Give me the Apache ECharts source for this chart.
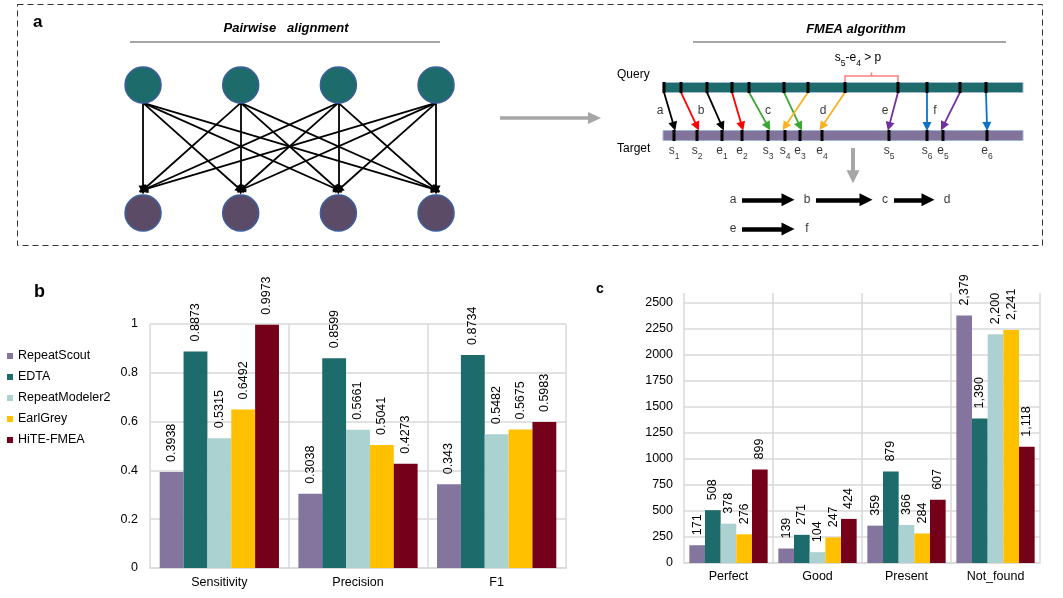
<!DOCTYPE html>
<html><head><meta charset="utf-8">
<script src="https://cdn.jsdelivr.net/npm/echarts@6/dist/echarts.min.js"></script>
<style>html,body{margin:0;padding:0;background:#fff}#c{width:1063px;height:598px}</style>
</head><body><div id="c"></div>
<script>
// ---------- panel b data ----------
const methods = ['RepeatScout', 'EDTA', 'RepeatModeler2', 'EarlGrey', 'HiTE-FMEA'];
const metrics = ['Sensitivity', 'Precision', 'F1'];
const bRepeatScout = [0.3938, 0.3038, 0.343];
const bEDTA = [0.8873, 0.8599, 0.8734];
const bRepeatModeler2 = [0.5315, 0.5661, 0.5482];
const bEarlGrey = [0.6492, 0.5041, 0.5675];
const bHiTE = [0.9973, 0.4273, 0.5983];
const bTicks = [0, 0.2, 0.4, 0.6, 0.8, 1];

// ---------- panel c data ----------
const classes = ['Perfect', 'Good', 'Present', 'Not_found'];
const cRepeatScout = [171, 139, 359, 2379];
const cEDTA = [508, 271, 879, 1390];
const cRepeatModeler2 = [378, 104, 366, 2200];
const cEarlGrey = [276, 247, 284, 2241];
const cHiTE = [899, 424, 607, 1118];
const cTicks = [0, 250, 500, 750, 1000, 1250, 1500, 1750, 2000, 2250, 2500];

// ---------- panel a (schematic) ----------
const pairSources = [0, 1, 2, 3];
const pairTargets = [0, 1, 2, 3];
const queryTicks = [1, 18, 44, 69, 86, 121, 145, 182, 235, 264, 297, 323];
const targetTicks = [11, 34, 59, 79, 105, 122, 137, 159, 226, 264, 280, 324];
const targetNames = ['s1', 's2', 'e1', 'e2', 's3', 's4', 'e3', 'e4', 's5', 's6', 'e5', 'e6'];
const hitTarget = [0, 1, 2, 3, 4, 6, 5, 7, 8, 9, 10, 11];
const hitAlign = ['a', 'b', 'a', 'b', 'c', 'c', 'd', 'd', 'e', 'f', 'e', 'f'];
const alignNames = ['a', 'b', 'c', 'd', 'e', 'f'];
const alignLabelX = [-3, 38, 105, 160, 222, 272];
const chain1 = ['a', 'b', 'c', 'd'];
const chain1X = [70, 144, 222, 284];
const chain2 = ['e', 'f'];
const chain2X = [70, 144];

// ---------- styles ----------
const FONT = '"Liberation Sans", Arial, sans-serif';
const methodColors = ['#83759d', '#1e6b6b', '#abd1d0', '#ffc000', '#75001a'];
const alignColors = { a: '#000000', b: '#ff0000', c: '#3aa635', d: '#f5b324', e: '#7030a0', f: '#0f72c4' };
const GRID_C = '#d9d9d9';

const chart = echarts.init(document.getElementById('c'), null, { renderer: 'canvas', width: 1063, height: 598 });

const bSeriesVals = [bRepeatScout, bEDTA, bRepeatModeler2, bEarlGrey, bHiTE];
const cSeriesVals = [cRepeatScout, cEDTA, cRepeatModeler2, cEarlGrey, cHiTE];
const commas = v => String(v).replace(/\B(?=(\d{3})+(?!\d))/g, ',');

const labelCommon = {
  show: true, position: 'top', rotate: 90, align: 'left', verticalAlign: 'middle',
  fontSize: 12.5, color: '#000', fontFamily: FONT
};

const series = [];
methods.forEach((m, i) => {
  series.push({
    type: 'bar', name: m, xAxisIndex: 0, yAxisIndex: 0, data: bSeriesVals[i],
    barGap: '0%', barCategoryGap: '14%', itemStyle: { color: methodColors[i] },
    label: Object.assign({}, labelCommon, { distance: 10 }), silent: true
  });
});
methods.forEach((m, i) => {
  series.push({
    type: 'bar', name: m, xAxisIndex: 1, yAxisIndex: 1, data: cSeriesVals[i],
    barGap: '0%', barCategoryGap: '12%', itemStyle: { color: methodColors[i] },
    label: Object.assign({}, labelCommon, { distance: 10, formatter: p => commas(p.value) }), silent: true
  });
});

// pairwise edges
const pairEdges = [];
pairSources.forEach(s => pairTargets.forEach(t => pairEdges.push({ coords: [[s, 0.86], [t, 0.18]] })));
series.push({
  type: 'lines', coordinateSystem: 'cartesian2d', xAxisIndex: 3, yAxisIndex: 3, silent: true, z: 2,
  data: pairEdges, symbol: ['none', 'triangle'], symbolSize: 9,
  lineStyle: { color: '#000', width: 1.8, opacity: 1 }
});
series.push({
  type: 'scatter', xAxisIndex: 3, yAxisIndex: 3, silent: true, z: 3, symbolSize: 36,
  data: pairSources.map(i => [i, 1]),
  itemStyle: { color: '#1e6b6b', borderColor: '#3d5f9e', borderWidth: 1.5, opacity: 1 }
});
series.push({
  type: 'scatter', xAxisIndex: 3, yAxisIndex: 3, silent: true, z: 3, symbolSize: 36,
  data: pairTargets.map(i => [i, 0]),
  itemStyle: { color: '#5c4b66', borderColor: '#3d5f9e', borderWidth: 1.5, opacity: 1 }
});

// FMEA: sequence bars
const seqLen = 360;
series.push({
  type: 'custom', xAxisIndex: 4, yAxisIndex: 4, silent: true, z: 2,
  data: [[0, seqLen, 1], [0, seqLen, 0]],
  renderItem: (params, api) => {
    const a = api.coord([api.value(0), api.value(2)]);
    const b = api.coord([api.value(1), api.value(2)]);
    return {
      type: 'rect',
      shape: { x: a[0], y: a[1] - 5, width: b[0] - a[0], height: 10 },
      style: { fill: params.dataIndex === 0 ? '#1e6b6b' : '#82739a', stroke: '#9fb8d8', lineWidth: 1 }
    };
  }
});
series.push({
  type: 'scatter', xAxisIndex: 4, yAxisIndex: 4, silent: true, z: 4, symbol: 'rect', symbolSize: [3, 11],
  data: queryTicks.map(x => [x, 1]), itemStyle: { color: '#000', opacity: 1 }
});
series.push({
  type: 'scatter', xAxisIndex: 4, yAxisIndex: 4, silent: true, z: 4, symbol: 'rect', symbolSize: [3, 11],
  data: targetTicks.map(x => [x, 0]), itemStyle: { color: '#000', opacity: 1 }
});
series.push({
  type: 'lines', coordinateSystem: 'cartesian2d', xAxisIndex: 4, yAxisIndex: 4, silent: true, z: 3,
  symbol: ['none', 'triangle'], symbolSize: 9,
  data: queryTicks.map((x, i) => ({
    coords: [[x, 0.9], [targetTicks[hitTarget[i]], 0.19]],
    lineStyle: { color: alignColors[hitAlign[i]] }
  })),
  lineStyle: { width: 1.8, opacity: 1 }
});
// alignment letters
series.push({
  type: 'scatter', xAxisIndex: 4, yAxisIndex: 4, silent: true, symbolSize: 1,
  itemStyle: { color: 'rgba(0,0,0,0)' },
  data: alignLabelX.map((x, i) => ({ value: [x, 0.51], name: alignNames[i] })),
  label: { show: true, position: 'inside', formatter: '{b}', fontSize: 12, color: '#000', fontFamily: FONT }
});
// target tick names with subscripts
series.push({
  type: 'scatter', xAxisIndex: 4, yAxisIndex: 4, silent: true, symbolSize: 1,
  itemStyle: { color: 'rgba(0,0,0,0)' },
  data: targetTicks.map((x, i) => ({ value: [x, -0.28], name: targetNames[i] })),
  label: {
    show: true, position: 'inside', fontFamily: FONT,
    formatter: p => '{n|' + p.name[0] + '}{s|' + p.name.slice(1) + '}',
    rich: {
      n: { fontSize: 12, color: '#000', fontFamily: FONT, verticalAlign: 'bottom', lineHeight: 16 },
      s: { fontSize: 8.5, color: '#000', fontFamily: FONT, verticalAlign: 'bottom', lineHeight: 12, padding: [0, 0, -4, 0] }
    }
  }
});
// gap bracket
const q7 = queryTicks[7], q8 = queryTicks[8];
series.push({
  type: 'lines', coordinateSystem: 'cartesian2d', xAxisIndex: 4, yAxisIndex: 4, silent: true, polyline: true,
  data: [
    { coords: [[q7, 1.09], [q7, 1.24], [q8, 1.24], [q8, 1.09]] },
    { coords: [[(q7 + q8) / 2, 1.24], [(q7 + q8) / 2, 1.31]] }
  ],
  lineStyle: { color: '#ff7c80', width: 1.5, opacity: 1 }
});
// gray down arrow
series.push({
  type: 'lines', coordinateSystem: 'cartesian2d', xAxisIndex: 4, yAxisIndex: 4, silent: true,
  data: [{ coords: [[190, -0.26], [190, -0.86]] }],
  symbol: ['none', 'triangle'], symbolSize: 13,
  lineStyle: { color: '#a6a6a6', width: 4, opacity: 1 }
});
// chains
function chainSeries(names, xs, y) {
  const segs = [];
  for (let i = 0; i < names.length - 1; i++) {
    segs.push({ coords: [[xs[i] + 9, y], [xs[i + 1] - 19, y]] });
  }
  series.push({
    type: 'lines', coordinateSystem: 'cartesian2d', xAxisIndex: 4, yAxisIndex: 4, silent: true,
    data: segs, symbol: ['none', 'triangle'], symbolSize: 13,
    lineStyle: { color: '#000', width: 4.5, opacity: 1 }
  });
  series.push({
    type: 'scatter', xAxisIndex: 4, yAxisIndex: 4, silent: true, symbolSize: 1,
    itemStyle: { color: 'rgba(0,0,0,0)' },
    data: names.map((n, i) => ({ value: [xs[i], y], name: n })),
    label: { show: true, position: 'inside', formatter: '{b}', fontSize: 12, color: '#000', fontFamily: FONT }
  });
}
chainSeries(chain1, chain1X, -1.34);
chainSeries(chain2, chain2X, -1.95);

const txt = (x, y, text, opt) => ({
  type: 'text', x, y, silent: true,
  style: Object.assign({ text, fill: '#000', fontFamily: FONT, fontSize: 12.5 }, opt || {})
});

const option = {
  animation: false,
  backgroundColor: '#fff',
  textStyle: { fontFamily: FONT },
  legend: {
    data: methods, orient: 'vertical', left: 7, top: 349, itemWidth: 6, itemHeight: 6, itemGap: 7,
    icon: 'rect', selectedMode: false, padding: 0,
    textStyle: { fontSize: 12.5, color: '#000', fontFamily: FONT, lineHeight: 14 }
  },
  grid: [
    { left: 150, top: 324, width: 416, height: 244, outerBoundsMode: 'none', containLabel: false },
    { left: 684, top: 303, width: 356, height: 260, outerBoundsMode: 'none', containLabel: false },
    { left: 684, top: 293, width: 356, height: 270, outerBoundsMode: 'none', containLabel: false },
    { left: 94.2, top: 46.6, width: 390.7, height: 204.8, outerBoundsMode: 'none', containLabel: false },
    { left: 648, top: 68.3, width: 385, height: 168, outerBoundsMode: 'none', containLabel: false }
  ],
  xAxis: [
    {
      type: 'category', gridIndex: 0, data: metrics,
      axisLine: { lineStyle: { color: GRID_C, width: 1.5 } }, axisTick: { show: false },
      axisLabel: { color: '#000', fontSize: 12.5, margin: 8, fontFamily: FONT },
      splitLine: { show: true, lineStyle: { color: GRID_C, width: 1.5 } }
    },
    {
      type: 'category', gridIndex: 1, data: classes,
      axisLine: { lineStyle: { color: GRID_C, width: 1.5 } }, axisTick: { show: false },
      axisLabel: { color: '#000', fontSize: 12.5, margin: 7, fontFamily: FONT },
      splitLine: { show: false }
    },
    {
      type: 'category', gridIndex: 2, data: classes,
      axisLine: { show: false }, axisTick: { show: false }, axisLabel: { show: false },
      splitLine: { show: true, lineStyle: { color: GRID_C, width: 1.5 } }
    },
    { type: 'value', gridIndex: 3, min: -0.5, max: 3.5, show: false },
    { type: 'value', gridIndex: 4, min: -15, max: 370, show: false }
  ],
  yAxis: [
    {
      type: 'value', gridIndex: 0, min: bTicks[0], max: bTicks[bTicks.length - 1], interval: bTicks[1] - bTicks[0],
      axisLine: { show: false }, axisTick: { show: false },
      axisLabel: { color: '#000', fontSize: 12.5, margin: 12, fontFamily: FONT, formatter: v => String(v) },
      splitLine: { show: true, lineStyle: { color: GRID_C, width: 1.5 } }
    },
    {
      type: 'value', gridIndex: 1, min: cTicks[0], max: cTicks[cTicks.length - 1], interval: cTicks[1] - cTicks[0],
      axisLine: { show: false }, axisTick: { show: false },
      axisLabel: { color: '#000', fontSize: 12.5, margin: 11, fontFamily: FONT, formatter: v => String(v) },
      splitLine: { show: true, lineStyle: { color: GRID_C, width: 1.5 } }
    },
    { type: 'value', gridIndex: 2, min: 0, max: 1, show: false },
    { type: 'value', gridIndex: 3, min: -0.3, max: 1.3, show: false },
    { type: 'value', gridIndex: 4, min: -2.1, max: 1.4, show: false }
  ],
  series,
  graphic: [
    { type: 'rect', silent: true, shape: { x: 17.5, y: 4.5, width: 1025, height: 241 },
      style: { fill: 'none', stroke: '#333', lineWidth: 1, lineDash: [6, 4] } },
    txt(33, 14, 'a', { fontSize: 17, fontWeight: 'bold' }),
    txt(286, 28, 'Pairwise   alignment', { fontSize: 13, fontWeight: 'bold', fontStyle: 'italic', align: 'center', verticalAlign: 'middle' }),
    { type: 'line', silent: true, shape: { x1: 130, y1: 42, x2: 440, y2: 42 }, style: { stroke: '#a6a6a6', lineWidth: 2 } },
    txt(856, 29, 'FMEA algorithm', { fontSize: 13, fontWeight: 'bold', fontStyle: 'italic', align: 'center', verticalAlign: 'middle' }),
    { type: 'line', silent: true, shape: { x1: 693, y1: 42, x2: 1006, y2: 42 }, style: { stroke: '#a6a6a6', lineWidth: 2 } },
    { type: 'text', x: 858, y: 56, silent: true, style: {
        text: '{n|s}{s|5}{n|-e}{s|4}{n| > p}', align: 'center', verticalAlign: 'middle',
        rich: {
          n: { fontSize: 12, fill: '#000', fontFamily: FONT, verticalAlign: 'bottom', lineHeight: 16 },
          s: { fontSize: 8.5, fill: '#000', fontFamily: FONT, verticalAlign: 'bottom', lineHeight: 12, padding: [0, 0, -4, 0] }
        } } },
    txt(617, 75, 'Query', { fontSize: 12, verticalAlign: 'middle' }),
    txt(617, 149, 'Target', { fontSize: 12, verticalAlign: 'middle' }),
    // gray arrow between the two schematics
    { type: 'line', silent: true, shape: { x1: 500, y1: 118, x2: 590, y2: 118 }, style: { stroke: '#a6a6a6', lineWidth: 3.5 } },
    { type: 'polygon', silent: true, shape: { points: [[588, 112], [601, 118], [588, 124]] }, style: { fill: '#a6a6a6' } },
    txt(34, 283, 'b', { fontSize: 18, fontWeight: 'bold' }),
    txt(596, 282, 'c', { fontSize: 14, fontWeight: 'bold' })
  ]
};
chart.setOption(option);
</script>
</body></html>
